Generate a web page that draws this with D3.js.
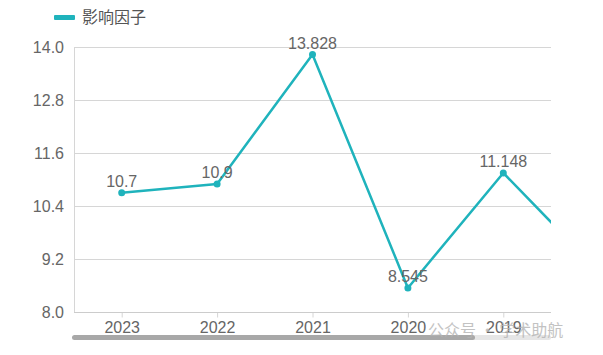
<!DOCTYPE html>
<html>
<head>
<meta charset="utf-8">
<script src="https://cdn.jsdelivr.net/npm/d3@7"></script>
<style>
  html, body { margin: 0; padding: 0; background: #fff; }
  svg { display: block; font-family: "Liberation Sans", Arial, sans-serif; }
</style>
</head>
<body>
<div id="chart"></div>
<script>
// Dades
const years = ['2023', '2022', '2021', '2020', '2019', '2018'];
const visibleYears = ['2023', '2022', '2021', '2020', '2019'];
const impactFactor = [10.7, 10.9, 13.828, 8.545, 11.148, 8.92];
const valueLabels = ['10.7', '10.9', '13.828', '8.545', '11.148', '8.92'];
const yTicks = [8.0, 9.2, 10.4, 11.6, 12.8, 14.0];
const seriesName = '影响因子';

const W = 603, H = 355;
const plotLeft = 74, plotRight = 551, plotTop = 47, plotBottom = 312;
const lineColor = '#1fb3bc';
const textColor = '#666';
const gridColor = '#d6d6d6';

const svg = d3.select('#chart').append('svg')
    .attr('width', W)
    .attr('height', H);

// Escales
const step = (plotRight - plotLeft) / visibleYears.length;
const x = d3.scalePoint()
    .domain(years)
    .range([plotLeft + step / 2, plotLeft + step / 2 + step * (years.length - 1)]);

const y = d3.scaleLinear()
    .domain([8, 14])
    .range([plotBottom, plotTop]);

// Clip de l'àrea visible (dataZoom)
svg.append('defs').append('clipPath')
    .attr('id', 'plot-clip')
    .append('rect')
    .attr('x', plotLeft)
    .attr('y', 0)
    .attr('width', plotRight - plotLeft)
    .attr('height', H);

// Línies de la graella
svg.append('g')
    .selectAll('line')
    .data(yTicks)
    .enter()
    .append('line')
    .attr('x1', plotLeft)
    .attr('x2', plotRight)
    .attr('y1', d => Math.round(y(d)) + 0.5)
    .attr('y2', d => Math.round(y(d)) + 0.5)
    .attr('stroke', gridColor)
    .attr('stroke-width', 1);

// Eix vertical esquerre
svg.append('line')
    .attr('x1', plotLeft + 0.5)
    .attr('x2', plotLeft + 0.5)
    .attr('y1', plotTop)
    .attr('y2', plotBottom)
    .attr('stroke', gridColor);

// Eix Y
const yAxis = svg.append('g')
    .attr('transform', `translate(${plotLeft},0)`)
    .call(d3.axisLeft(y).tickValues(yTicks).tickFormat(d3.format('.1f')).tickSize(0).tickPadding(10));
yAxis.select('.domain').remove();
yAxis.selectAll('text')
    .attr('font-size', '16px')
    .attr('fill', textColor)
    .attr('font-family', '"Liberation Sans", Arial, sans-serif');

// Eix X
const xAxis = svg.append('g')
    .attr('transform', `translate(0,${Math.round(plotBottom) + 0.5})`)
    .call(d3.axisBottom(x).tickValues(visibleYears).tickSize(5).tickPadding(4));
xAxis.select('.domain').remove();
xAxis.selectAll('line').attr('stroke', gridColor);
xAxis.selectAll('text')
    .attr('font-size', '16px')
    .attr('fill', textColor)
    .attr('font-family', '"Liberation Sans", Arial, sans-serif');
svg.append('line')
    .attr('x1', plotLeft)
    .attr('x2', plotRight)
    .attr('y1', Math.round(plotBottom) + 0.5)
    .attr('y2', Math.round(plotBottom) + 0.5)
    .attr('stroke', '#ccc');

// Sèrie
const points = years.map((yr, i) => ({ year: yr, value: impactFactor[i], label: valueLabels[i] }));
const plot = svg.append('g').attr('clip-path', 'url(#plot-clip)');

plot.append('path')
    .datum(points)
    .attr('fill', 'none')
    .attr('stroke', lineColor)
    .attr('stroke-width', 2.5)
    .attr('stroke-linejoin', 'round')
    .attr('d', d3.line().x(d => x(d.year)).y(d => y(d.value)));

plot.selectAll('circle')
    .data(points)
    .enter()
    .append('circle')
    .attr('cx', d => x(d.year))
    .attr('cy', d => y(d.value))
    .attr('r', 3.5)
    .attr('fill', lineColor);

// Etiquetes de valor (només dels anys visibles)
svg.append('g').selectAll('text.val')
    .data(points.filter(d => visibleYears.includes(d.year)))
    .enter()
    .append('text')
    .attr('class', 'val')
    .attr('x', d => x(d.year))
    .attr('y', d => y(d.value) - 6)
    .attr('text-anchor', 'middle')
    .attr('font-size', '16px')
    .attr('fill', textColor)
    .text(d => d.label);

// Llegenda
svg.append('rect')
    .attr('x', 54)
    .attr('y', 15)
    .attr('width', 21)
    .attr('height', 5)
    .attr('rx', 1)
    .attr('fill', lineColor);
svg.append('text')
    .attr('x', 82)
    .attr('y', 23)
    .attr('font-size', '16px')
    .attr('fill', '#555')
    .attr('font-family', '"Noto Sans CJK SC", sans-serif')
    .text(seriesName);

// Barra del dataZoom
svg.append('rect')
    .attr('x', plotLeft)
    .attr('y', 335)
    .attr('width', plotRight - plotLeft)
    .attr('height', 5)
    .attr('rx', 2.5)
    .attr('fill', '#e6e6e6');
svg.append('rect')
    .attr('x', plotLeft - 2)
    .attr('y', 335)
    .attr('width', 475 - plotLeft + 2)
    .attr('height', 5)
    .attr('rx', 2.5)
    .attr('fill', '#a8a8a8');

// Marca d'aigua
svg.append('text')
    .attr('x', 428)
    .attr('y', 336)
    .attr('font-size', '16px')
    .attr('fill', '#b4b4b4')
    .attr('opacity', 0.8)
    .attr('font-family', '"Noto Sans CJK SC", sans-serif')
    .text('公众号 · 学术助航');
</script>
</body>
</html>
